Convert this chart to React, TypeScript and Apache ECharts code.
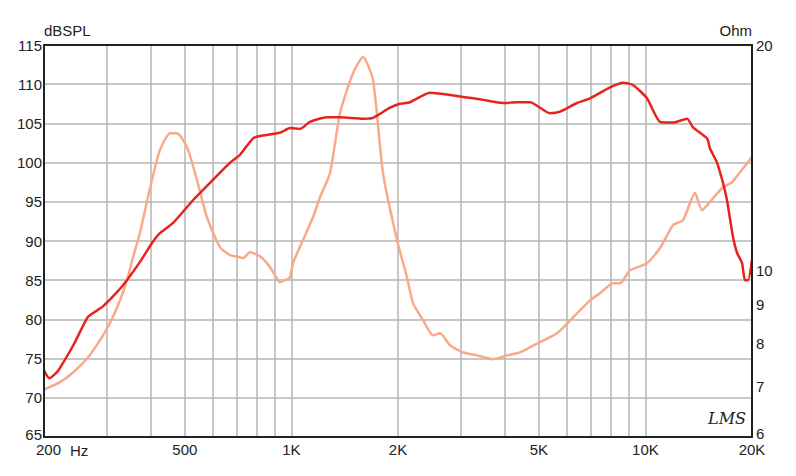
import React, { useEffect, useRef } from "react";
import * as echarts from "echarts";

const splFreq = [200, 207, 218, 226, 242, 265, 275, 294, 322, 343, 373, 406, 425, 463, 527, 600, 671, 716, 779, 815, 928, 991, 1057, 1128, 1260, 1372, 1593, 1700, 1899, 2026, 2162, 2462, 2936, 3478, 3962, 4338, 4720, 5376, 5738, 6407, 6971, 7941, 8640, 9222, 10100, 10994, 11964, 13106, 13627, 14928, 15220, 15926, 16564, 17000, 17676, 18140, 18740, 19110, 19486, 20000];
const splDb = [73.5, 72.5, 73.3, 74.4, 76.7, 80.2, 80.8, 81.7, 83.5, 85.0, 87.3, 89.9, 91.0, 92.3, 95.2, 97.8, 100.0, 101.0, 103.1, 103.4, 103.8, 104.4, 104.3, 105.2, 105.8, 105.8, 105.6, 105.7, 107.0, 107.5, 107.7, 108.9, 108.5, 108.0, 107.6, 107.7, 107.7, 106.3, 106.5, 107.6, 108.2, 109.6, 110.2, 109.9, 108.2, 105.2, 105.1, 105.6, 104.5, 103.1, 101.8, 100.0, 97.4, 95.2, 90.5, 88.5, 87.2, 85.0, 85.0, 87.6];

const impFreq = [200, 222, 242, 265, 288, 307, 328, 343, 357, 373, 399, 425, 454, 475, 507, 541, 577, 628, 671, 716, 730, 764, 815, 870, 910, 928, 972, 991, 1010, 1078, 1151, 1204, 1285, 1372, 1493, 1593, 1700, 1814, 1987, 2120, 2205, 2354, 2512, 2629, 2806, 3053, 3344, 3710, 4064, 4424, 5036, 5626, 6407, 6971, 7441, 8098, 8476, 9045, 10100, 10994, 11964, 12770, 13804, 14448, 15518, 16564, 17560, 18500, 20000];
const impOhm = [6.94, 7.10, 7.32, 7.64, 8.08, 8.51, 9.13, 9.71, 10.42, 11.22, 12.92, 14.48, 15.25, 15.25, 14.62, 13.21, 11.79, 10.75, 10.49, 10.42, 10.39, 10.58, 10.45, 10.11, 9.77, 9.65, 9.74, 9.80, 10.23, 10.99, 11.79, 12.53, 13.49, 16.23, 18.35, 19.28, 17.96, 13.5, 10.99, 9.80, 9.05, 8.59, 8.20, 8.25, 7.95, 7.78, 7.71, 7.62, 7.71, 7.78, 8.03, 8.25, 8.77, 9.13, 9.33, 9.62, 9.62, 10.01, 10.23, 10.72, 11.50, 11.68, 12.69, 12.04, 12.49, 12.92, 13.12, 13.53, 14.18];

const gridFreqs = [200, 300, 400, 500, 600, 700, 800, 900, 1000, 2000, 3000, 4000, 5000, 6000, 7000, 8000, 9000, 10000, 20000];
const freqLabels = [200, 500, 1000, 2000, 5000, 10000, 20000];
const ohmLabels = [6, 7, 8, 9, 10, 20];

const FONT = "Liberation Sans, Arial, sans-serif";

export default function App() {
  const ref = useRef<HTMLDivElement>(null);
  useEffect(() => {
    if (!ref.current) return;
    const chart = echarts.init(ref.current, null, { renderer: "svg" });
    const lbl = { fontFamily: FONT, fontSize: 15, color: "#222" };
    chart.setOption({
      animation: false,
      backgroundColor: "#fff",
      grid: { left: 44, right: 44, top: 45, bottom: 39, show: true, borderColor: "#222", borderWidth: 2, backgroundColor: "transparent", z: 5 },
      xAxis: {
        type: "log",
        logBase: 10,
        min: 200,
        max: 20000,
        axisLine: { show: true, lineStyle: { color: "#222", width: 2 } },
        axisTick: { show: false, customValues: gridFreqs },
        splitLine: { show: true, lineStyle: { color: "#b4b4b4", width: 1.5 } },
        minorTick: { show: false },
        axisLabel: {
          ...lbl,
          margin: 5,
          customValues: freqLabels,
          formatter: (v: number) =>
            v >= 1000 ? Math.round(v / 1000) + "K" : Math.round(v) === 200 ? "{r|200}" : String(Math.round(v)),
          rich: { r: { ...lbl, padding: [0, 0, 0, 9] } },
        },
      },
      yAxis: [
        {
          type: "value",
          min: 65,
          max: 115,
          interval: 5,
          name: "dBSPL",
          nameLocation: "end",
          nameGap: 5,
          nameTextStyle: { ...lbl, align: "left" },
          axisLine: { show: true, lineStyle: { color: "#222", width: 2 } },
          axisTick: { show: false },
          splitLine: { show: true, lineStyle: { color: "#b4b4b4", width: 1.5 } },
          axisLabel: {
            ...lbl,
            margin: 2,
            formatter: (v: number) => (v === 65 ? "{up|65}" : String(v)),
            rich: { up: { ...lbl, padding: [0, 0, 6, 0] } },
          },
        },
        {
          type: "log",
          logBase: 10,
          min: 6,
          max: 20,
          position: "right",
          name: "Ohm",
          nameLocation: "end",
          nameGap: 5,
          nameTextStyle: { ...lbl, align: "right" },
          axisLine: { show: true, lineStyle: { color: "#222", width: 2 } },
          axisTick: { show: false, customValues: ohmLabels },
          splitLine: { show: false },
          minorTick: { show: false },
          axisLabel: {
            ...lbl,
            margin: 4,
            customValues: ohmLabels,
            formatter: (v: number) => (Math.round(v) === 6 ? "{up|6}" : String(Math.round(v))),
            rich: { up: { ...lbl, padding: [0, 0, 8, 0] } },
          },
        },
      ],
      graphic: [
        { type: "text", left: 70, top: 443, style: { text: "Hz", font: "15px " + FONT, fill: "#222" } },
        { type: "text", left: 708, top: 410, style: { text: "LMS", font: "italic 16px DejaVu Serif", fill: "#222" } },
      ],
      series: [
        {
          type: "line",
          yAxisIndex: 1,
          data: impFreq.map((f, i) => [f, impOhm[i]]),
          showSymbol: false,
          smooth: 0.2,
          lineStyle: { color: "#f8a98b", width: 2.5 },
          z: 3,
        },
        {
          type: "line",
          yAxisIndex: 0,
          data: splFreq.map((f, i) => [f, splDb[i]]),
          showSymbol: false,
          smooth: 0.2,
          lineStyle: { color: "#e8231b", width: 2.5 },
          z: 4,
        },
      ],
    });
    return () => chart.dispose();
  }, []);
  return <div ref={ref} style={{ position: "fixed", left: 0, top: 0, width: 796, height: 476 }} />;
}
